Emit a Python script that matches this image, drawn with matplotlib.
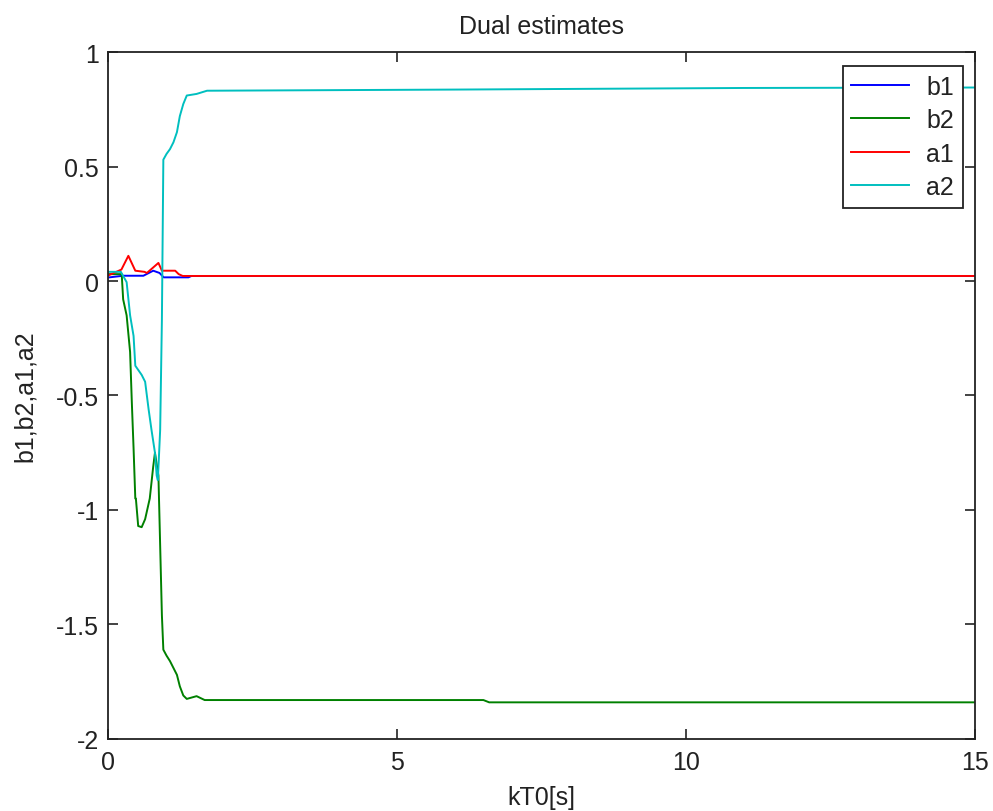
import matplotlib.pyplot as plt

# estimated parameter trajectories (time in s)
t_b1 = [0.0, 0.27, 0.62, 0.79, 0.90, 0.97, 1.40, 1.45, 15.0]
b1 = [0.015, 0.023, 0.023, 0.045, 0.035, 0.016, 0.016, 0.022, 0.022]

t_b2 = [0.0, 0.245, 0.27, 0.33, 0.39, 0.42, 0.45, 0.48, 0.49, 0.53, 0.59, 0.65,
        0.73, 0.76, 0.79, 0.82, 0.88, 0.91, 0.94, 0.965, 1.02, 1.08, 1.14, 1.2,
        1.25, 1.31, 1.37, 1.54, 1.68, 6.5, 6.6, 15.0]
b2 = [0.03, 0.03, -0.08, -0.15, -0.31, -0.53, -0.73, -0.95, -0.95, -1.07, -1.075,
      -1.04, -0.95, -0.88, -0.81, -0.75, -0.85, -1.156, -1.46, -1.61, -1.636,
      -1.66, -1.69, -1.72, -1.77, -1.81, -1.825, -1.813, -1.83, -1.83, -1.84, -1.84]

t_a1 = [0.0, 0.24, 0.36, 0.48, 0.64, 0.68, 0.88, 0.94, 1.17, 1.23, 1.30, 15.0]
a1 = [0.023, 0.05, 0.11, 0.045, 0.04, 0.035, 0.079, 0.045, 0.045, 0.03, 0.022, 0.022]

t_a2 = [0.0, 0.23, 0.33, 0.39, 0.45, 0.48, 0.59, 0.65, 0.71, 0.76, 0.82, 0.85,
        0.87, 0.91, 0.94, 0.965, 1.02, 1.08, 1.14, 1.2, 1.25, 1.31, 1.37, 1.54,
        1.72, 6.0, 11.0, 15.0]
a2 = [0.04, 0.04, -0.005, -0.15, -0.24, -0.37, -0.41, -0.44, -0.56, -0.65, -0.75,
      -0.85, -0.87, -0.65, -0.17, 0.53, 0.555, 0.576, 0.606, 0.65, 0.72, 0.773,
      0.81, 0.817, 0.831, 0.836, 0.843, 0.845]

plt.rcParams['font.family'] = ['Liberation Sans', 'DejaVu Sans']

fig = plt.figure(figsize=(9.93, 8.12), dpi=100)
ax = fig.add_axes([0.1083, 0.0887, 0.8735, 0.846])

ax.plot(t_b1, b1, color='#0000ff', lw=1.4, label='b1')
ax.plot(t_b2, b2, color='#008000', lw=1.4, label='b2')
ax.plot(t_a1, a1, color='#ff0000', lw=1.4, label='a1')
ax.plot(t_a2, a2, color='#00bfbf', lw=1.4, label='a2')

ax.set_xlim(0, 15)
ax.set_ylim(-2, 1)
ax.set_xticks([0, 5, 10, 15])
ax.set_yticks([-2, -1.5, -1, -0.5, 0, 0.5, 1])
ax.set_yticklabels(['-2', '-1.5', '-1', '-0.5', '0', '0.5', '1'])
ax.tick_params(direction='in', length=7, width=1.2, top=True, right=True,
               labelsize=18, colors='#222222')
ax.tick_params(axis='x', pad=8)
ax.tick_params(axis='y', pad=6)
for sp in ax.spines.values():
    sp.set_linewidth(1.3)
    sp.set_color('#222222')

ax.set_title('Dual estimates', fontsize=18, pad=14, color='#222222')
ax.set_xlabel('kT0[s]', fontsize=18, labelpad=8, color='#222222')
ax.set_ylabel('b1,b2,a1,a2', fontsize=18, labelpad=14, color='#222222')

leg = ax.legend(loc='upper right', bbox_to_anchor=(0.986, 0.98), borderaxespad=0,
                fontsize=18, fancybox=False, framealpha=1, edgecolor='#222222',
                handlelength=2.3, handletextpad=0.7, borderpad=0.35,
                labelspacing=0.38)
leg.get_frame().set_linewidth(1.3)
for txt in leg.get_texts():
    txt.set_color('#222222')

fig.savefig('out.png', dpi=100)
